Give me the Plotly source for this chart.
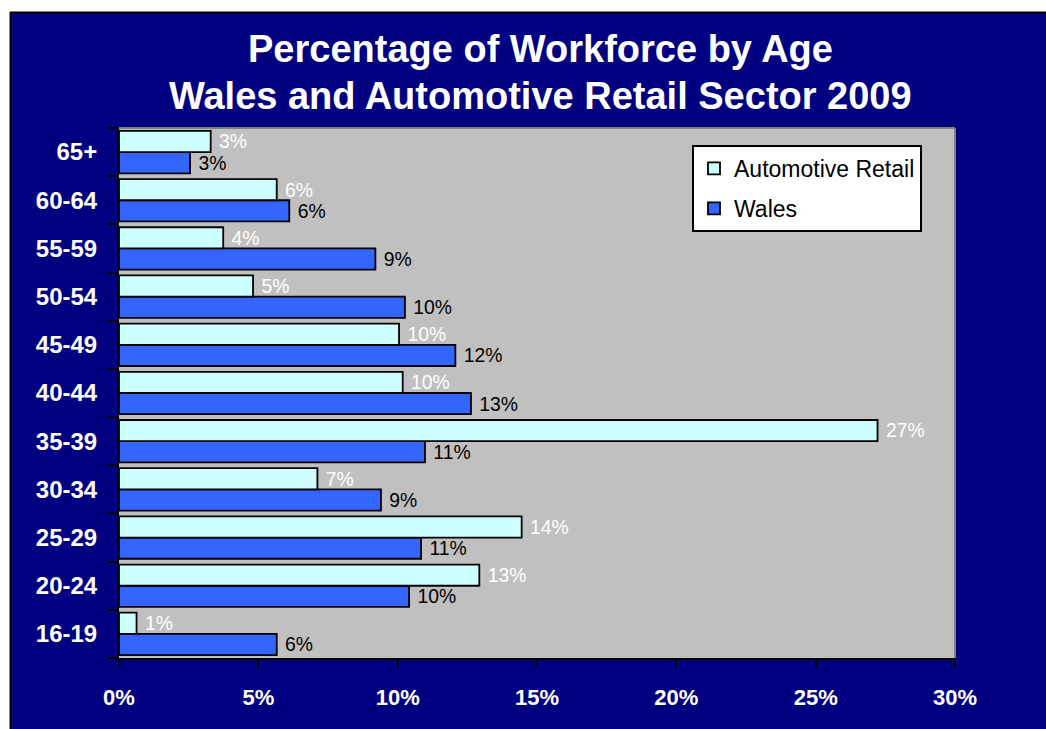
import plotly.graph_objects as go

# Age bands, bottom to top
age_bands = ["16-19", "20-24", "25-29", "30-34", "35-39", "40-44",
             "45-49", "50-54", "55-59", "60-64", "65+"]

# Share of workforce (%) per age band
automotive_retail = [0.63, 12.93, 14.45, 7.12, 27.22, 10.18,
                     10.05, 4.81, 3.74, 5.66, 3.29]
wales = [5.66, 10.41, 10.84, 9.40, 10.98, 12.63,
         12.07, 10.26, 9.20, 6.11, 2.55]

x_ticks = [0, 5, 10, 15, 20, 25, 30]
x_tick_labels = ["0%", "5%", "10%", "15%", "20%", "25%", "30%"]

title_lines = ["Percentage of Workforce by Age",
               "Wales and Automotive Retail Sector 2009"]

W, H = 1046, 729
ML, MR, MT, MB = 119, 91, 128, 71
PW, PH = W - ML - MR, H - MT - MB


def px_x(px):
    return (px - ML) / PW


def px_y(py):
    return (H - MB - py) / PH


FONT = "Liberation Sans, Arial, sans-serif"
NAVY = "#000080"
GAP = "\u00a0"

fig = go.Figure()

fig.add_trace(go.Bar(
    y=age_bands, x=wales, name="Wales", orientation="h",
    marker=dict(color="#3366FF", line=dict(color="black", width=1.8)),
    texttemplate=GAP + "%{x:.0f}%", textposition="outside",
    textfont=dict(family=FONT, size=21, color="black"),
    cliponaxis=False, legendrank=2, legendgroup="w",
))
fig.add_trace(go.Bar(
    y=age_bands, x=automotive_retail, name="Automotive Retail", orientation="h",
    marker=dict(color="#CCFFFF", line=dict(color="black", width=1.8)),
    texttemplate=GAP + "%{x:.0f}%", textposition="outside",
    textfont=dict(family=FONT, size=21, color="white"),
    cliponaxis=False, legendrank=1, legendgroup="a",
))

shapes = [
    # white page strips outside the chart frame
    dict(type="rect", xref="paper", yref="paper", x0=px_x(0), x1=px_x(W),
         y0=px_y(12), y1=px_y(0), fillcolor="white", line_width=0, layer="below"),
    dict(type="rect", xref="paper", yref="paper", x0=px_x(0), x1=px_x(10),
         y0=px_y(H), y1=px_y(0), fillcolor="white", line_width=0, layer="below"),
    # chart frame edges
    dict(type="line", xref="paper", yref="paper", x0=px_x(10), x1=px_x(W),
         y0=px_y(12.5), y1=px_y(12.5), line=dict(color="black", width=2)),
    dict(type="line", xref="paper", yref="paper", x0=px_x(10.5), x1=px_x(10.5),
         y0=px_y(12), y1=px_y(H), line=dict(color="black", width=2)),
    # plot area top / right border
    dict(type="line", xref="paper", yref="paper", x0=0, x1=1, y0=1, y1=1,
         line=dict(color="#808080", width=2)),
    dict(type="line", xref="paper", yref="paper", x0=1, x1=1, y0=0, y1=1,
         line=dict(color="#808080", width=2)),
]

annotations = [
    dict(text=line, xref="paper", yref="paper", x=px_x(540), y=px_y(cy),
         xanchor="center", yanchor="middle", showarrow=False,
         font=dict(family=FONT, size=38, color="white", weight="bold"))
    for line, cy in zip(title_lines, [49, 96])
]

fig.update_layout(
    width=W, height=H,
    margin=dict(l=ML, r=MR, t=MT, b=MB, pad=0),
    paper_bgcolor=NAVY, plot_bgcolor="#C0C0C0",
    barmode="group", bargap=0.12, bargroupgap=0,
    legend=dict(
        x=px_x(692), y=px_y(145), xanchor="left", yanchor="top",
        bgcolor="white", bordercolor="black", borderwidth=2,
        font=dict(family=FONT, size=23, color="black"),
        tracegroupgap=7, itemwidth=30,
    ),
    xaxis=dict(
        range=[0, 30], tickvals=x_ticks, ticktext=x_tick_labels,
        showgrid=False, zeroline=False,
        showline=True, linecolor="black", linewidth=2,
        ticks="outside", ticklen=8, tickcolor="black", tickwidth=2,
        tickfont=dict(family=FONT, size=22, color="white", weight="bold"),
        ticklabelstandoff=11,
    ),
    yaxis=dict(
        type="category", categoryorder="array", categoryarray=age_bands,
        showgrid=False, zeroline=False,
        showline=True, linecolor="black", linewidth=2,
        ticks="outside", ticklen=9, tickcolor="black", tickwidth=2,
        tickson="boundaries",
        tickfont=dict(family=FONT, size=24, color="white", weight="bold"),
        ticklabelstandoff=15,
    ),
    shapes=shapes,
    annotations=annotations,
    showlegend=True,
)

fig.write_html("out.html")
